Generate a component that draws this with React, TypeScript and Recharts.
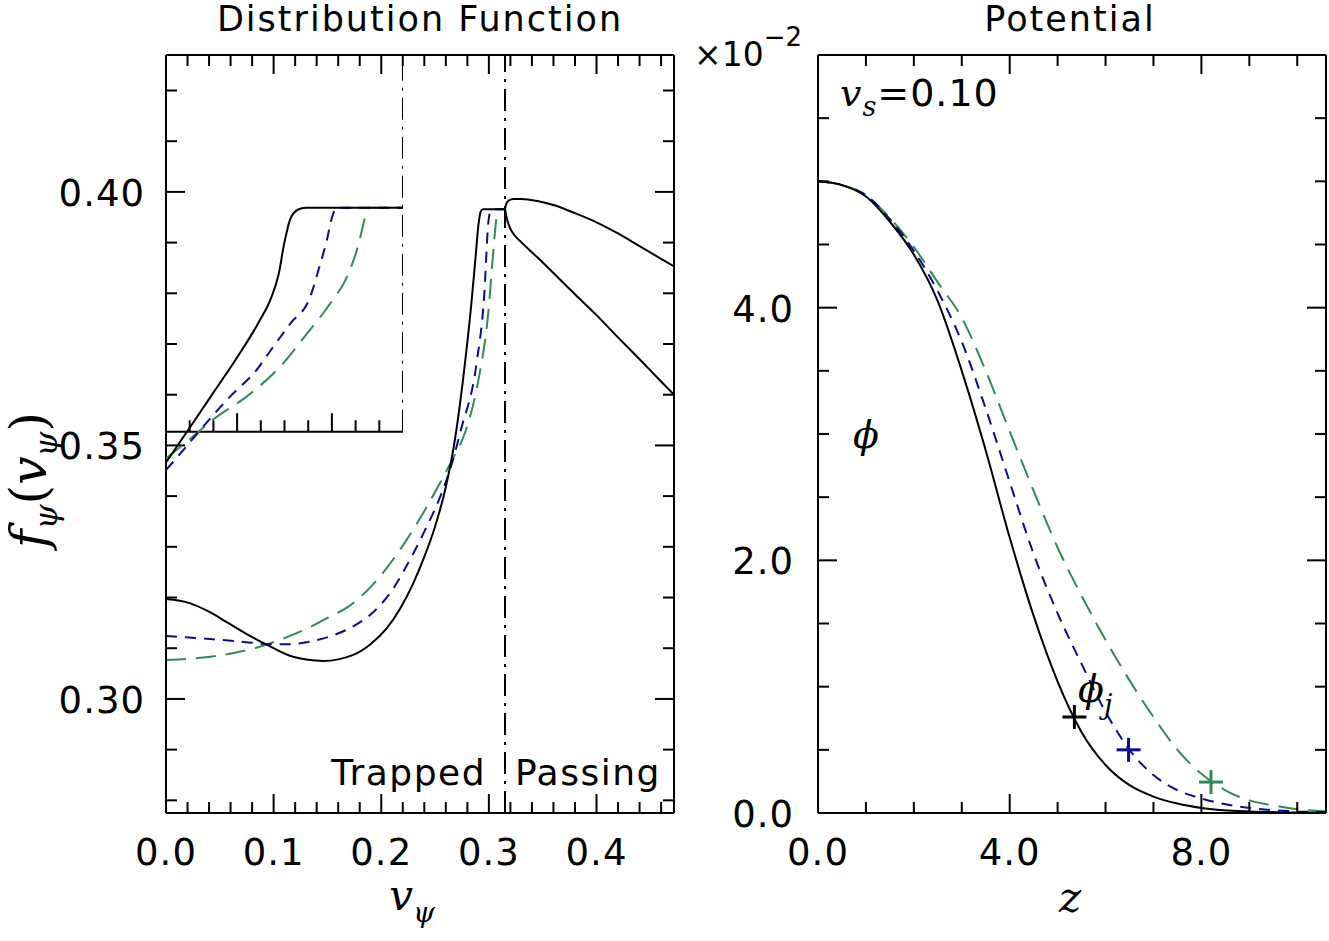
import React from "react";
import { LineChart, ComposedChart, Line, Scatter, XAxis, YAxis, ReferenceLine } from "recharts";

const BLUE = "#0b0b8f";
const GREEN = "#2e8b57";
const FONT = "'DejaVu Sans', sans-serif";
const MATH = "'DejaVu Serif', serif";

// distribution function, trapped part (three runs)
const distBlack = [
  { v: 0, f: 0.3197 }, { v: 0.022, f: 0.3189 }, { v: 0.04, f: 0.3172 }, { v: 0.056, f: 0.3152 },
  { v: 0.075, f: 0.3128 }, { v: 0.0935, f: 0.3107 }, { v: 0.118, f: 0.3083 }, { v: 0.146, f: 0.3075 },
  { v: 0.174, f: 0.3087 }, { v: 0.19, f: 0.3108 }, { v: 0.205, f: 0.3139 }, { v: 0.2175, f: 0.3178 },
  { v: 0.2295, f: 0.3227 }, { v: 0.24, f: 0.328 }, { v: 0.25, f: 0.334 }, { v: 0.26, f: 0.3418 },
  { v: 0.2687, f: 0.3515 }, { v: 0.277, f: 0.3648 }, { v: 0.2835, f: 0.3775 }, { v: 0.2875, f: 0.3868 },
  { v: 0.2903, f: 0.3935 }, { v: 0.2925, f: 0.3962 }, { v: 0.2945, f: 0.3966 }, { v: 0.315, f: 0.3966 },
];
const distBlue = [
  { v: 0, f: 0.3124 }, { v: 0.041, f: 0.3118 }, { v: 0.07, f: 0.3113 }, { v: 0.0966, f: 0.3108 },
  { v: 0.115, f: 0.3108 }, { v: 0.134, f: 0.3113 }, { v: 0.152, f: 0.3123 }, { v: 0.171, f: 0.314 },
  { v: 0.192, f: 0.317 }, { v: 0.211, f: 0.3217 }, { v: 0.225, f: 0.3268 }, { v: 0.24, f: 0.333 },
  { v: 0.255, f: 0.34 }, { v: 0.265, f: 0.346 }, { v: 0.2739, f: 0.353 }, { v: 0.2886, f: 0.3663 },
  { v: 0.2957, f: 0.3797 }, { v: 0.2995, f: 0.394 }, { v: 0.3015, f: 0.3962 }, { v: 0.3035, f: 0.3966 },
  { v: 0.315, f: 0.3966 },
];
const distGreen = [
  { v: 0, f: 0.3077 }, { v: 0.041, f: 0.3083 }, { v: 0.087, f: 0.3103 }, { v: 0.11, f: 0.312 },
  { v: 0.134, f: 0.3142 }, { v: 0.152, f: 0.3162 }, { v: 0.168, f: 0.318 }, { v: 0.192, f: 0.3225 },
  { v: 0.21, f: 0.3272 }, { v: 0.23, f: 0.3335 }, { v: 0.25, f: 0.3408 }, { v: 0.265, f: 0.3468 },
  { v: 0.2786, f: 0.353 }, { v: 0.285, f: 0.3577 }, { v: 0.291, f: 0.3637 }, { v: 0.2995, f: 0.3763 },
  { v: 0.3046, f: 0.3896 }, { v: 0.3068, f: 0.3945 }, { v: 0.3083, f: 0.3966 }, { v: 0.315, f: 0.3966 },
];
// passing part (black run), two branches of the loop
const passUpper = [
  { v: 0.315, f: 0.3966 }, { v: 0.3162, f: 0.3977 }, { v: 0.3185, f: 0.3983 }, { v: 0.323, f: 0.3986 },
  { v: 0.33, f: 0.3986 }, { v: 0.345, f: 0.3982 }, { v: 0.36, f: 0.3974 }, { v: 0.38, f: 0.3958 },
  { v: 0.4, f: 0.394 }, { v: 0.42, f: 0.3918 }, { v: 0.44, f: 0.3893 }, { v: 0.46, f: 0.3868 },
  { v: 0.473, f: 0.3852 },
];
const passLower = [
  { v: 0.315, f: 0.3966 }, { v: 0.3162, f: 0.3952 }, { v: 0.319, f: 0.3932 }, { v: 0.324, f: 0.3914 },
  { v: 0.33, f: 0.3901 }, { v: 0.345, f: 0.3871 }, { v: 0.36, f: 0.384 }, { v: 0.38, f: 0.3798 },
  { v: 0.4, f: 0.3757 }, { v: 0.42, f: 0.3713 }, { v: 0.44, f: 0.367 }, { v: 0.46, f: 0.3626 },
  { v: 0.473, f: 0.3598 },
];

// inset: zoom on the trapped edge
const insetBlack = [
  { v: 0.265, f: 0.3459 }, { v: 0.27, f: 0.3528 }, { v: 0.275, f: 0.3598 }, { v: 0.28, f: 0.3668 },
  { v: 0.2845, f: 0.3737 }, { v: 0.2872, f: 0.3787 }, { v: 0.2888, f: 0.3835 }, { v: 0.2899, f: 0.3893 },
  { v: 0.2912, f: 0.3943 }, { v: 0.2928, f: 0.3962 }, { v: 0.2945, f: 0.3966 }, { v: 0.315, f: 0.3966 },
];
const insetBlue = [
  { v: 0.265, f: 0.3444 }, { v: 0.2676, f: 0.3472 }, { v: 0.2729, f: 0.3531 }, { v: 0.2785, f: 0.359 },
  { v: 0.2841, f: 0.3643 }, { v: 0.2876, f: 0.3689 }, { v: 0.2912, f: 0.3735 }, { v: 0.2954, f: 0.3788 },
  { v: 0.2975, f: 0.3853 }, { v: 0.2989, f: 0.39 }, { v: 0.3, f: 0.3946 }, { v: 0.301, f: 0.3966 },
  { v: 0.315, f: 0.3966 },
];
const insetGreen = [
  { v: 0.265, f: 0.3467 }, { v: 0.27, f: 0.3505 }, { v: 0.275, f: 0.3545 }, { v: 0.282, f: 0.359 },
  { v: 0.2891, f: 0.365 }, { v: 0.2947, f: 0.3715 }, { v: 0.2996, f: 0.3775 }, { v: 0.3031, f: 0.3827 },
  { v: 0.3056, f: 0.3893 }, { v: 0.3066, f: 0.3932 }, { v: 0.3072, f: 0.3955 }, { v: 0.3077, f: 0.3966 },
  { v: 0.315, f: 0.3966 },
];

// potential phi(z), in units of 1e-2
const potBlack = [
  { z: 0, phi: 5.0 }, { z: 0.5, phi: 4.97 }, { z: 1, phi: 4.88 }, { z: 1.5, phi: 4.68 }, { z: 2, phi: 4.42 },
  { z: 2.5, phi: 4.05 }, { z: 3, phi: 3.5 }, { z: 3.5, phi: 2.87 }, { z: 4, phi: 2.18 }, { z: 4.5, phi: 1.56 },
  { z: 5, phi: 1.04 }, { z: 5.5, phi: 0.64 }, { z: 6, phi: 0.38 }, { z: 6.5, phi: 0.22 }, { z: 7, phi: 0.13 },
  { z: 7.5, phi: 0.075 }, { z: 8, phi: 0.04 }, { z: 9, phi: 0.012 }, { z: 10, phi: 0.004 }, { z: 10.6, phi: 0.002 },
];
const potBlue = [
  { z: 0, phi: 5.0 }, { z: 0.5, phi: 4.97 }, { z: 1, phi: 4.89 }, { z: 1.5, phi: 4.7 }, { z: 2, phi: 4.45 },
  { z: 2.5, phi: 4.13 }, { z: 3, phi: 3.73 }, { z: 3.5, phi: 3.2 }, { z: 4, phi: 2.62 }, { z: 4.5, phi: 2.05 },
  { z: 5, phi: 1.58 }, { z: 5.5, phi: 1.18 }, { z: 6, phi: 0.8 }, { z: 6.5, phi: 0.5 }, { z: 7, phi: 0.3 },
  { z: 7.5, phi: 0.18 }, { z: 8, phi: 0.115 }, { z: 9, phi: 0.04 }, { z: 10, phi: 0.012 }, { z: 10.6, phi: 0.006 },
];
const potGreen = [
  { z: 0, phi: 5.0 }, { z: 0.5, phi: 4.97 }, { z: 1, phi: 4.89 }, { z: 1.5, phi: 4.71 }, { z: 2, phi: 4.48 },
  { z: 2.5, phi: 4.2 }, { z: 3, phi: 3.92 }, { z: 3.5, phi: 3.5 }, { z: 4, phi: 3.02 }, { z: 4.5, phi: 2.55 },
  { z: 5, phi: 2.1 }, { z: 5.5, phi: 1.72 }, { z: 6, phi: 1.37 }, { z: 6.5, phi: 1.05 }, { z: 7, phi: 0.76 },
  { z: 7.5, phi: 0.5 }, { z: 8, phi: 0.31 }, { z: 8.5, phi: 0.18 }, { z: 9, phi: 0.1 }, { z: 9.5, phi: 0.06 },
  { z: 10, phi: 0.03 }, { z: 10.6, phi: 0.012 },
];
// phi_j markers
const jumpBlack = [{ z: 5.35, phi: 0.76 }];
const jumpBlue = [{ z: 6.48, phi: 0.5 }];
const jumpGreen = [{ z: 8.2, phi: 0.245 }];

// ticks
const distXTicks = [0, 0.02, 0.04, 0.06, 0.08, 0.1, 0.12, 0.14, 0.16, 0.18, 0.2, 0.22, 0.24, 0.26, 0.28, 0.3, 0.32, 0.34, 0.36, 0.38, 0.4, 0.42, 0.44, 0.46];
const distYTicks = [0.28, 0.29, 0.3, 0.31, 0.32, 0.33, 0.34, 0.35, 0.36, 0.37, 0.38, 0.39, 0.4, 0.41, 0.42];
const insetTicks = [0.27, 0.275, 0.28, 0.285, 0.29, 0.295, 0.3, 0.305, 0.31];
const potXTicks = [0, 1, 2, 3, 4, 5, 6, 7, 8, 9, 10];
const potYTicks = [0, 0.5, 1, 1.5, 2, 2.5, 3, 3.5, 4, 4.5, 5, 5.5];

const DIST_X = [0, 0.472];
const DIST_Y = [0.2775, 0.427];
const INSET_X = [0.265, 0.315];
const INSET_Y = [0.3452, 0.427];
const INSET_BASE = 0.352;
const POT_X = [0, 10.6];
const POT_Y = [0, 6];

const near = (a: number, step: number) => Math.abs(a / step - Math.round(a / step)) < 1e-6;

type Side = "bottom" | "top" | "left" | "right";
const makeTick = (side: Side, isMajor: (v: number) => boolean, fmt?: (v: number) => string, gap = 20) =>
  (props: any) => {
    const { x, y, payload } = props;
    const v = payload.value;
    const major = isMajor(v);
    const len = major ? 19 : 11;
    const dx = side === "left" ? len : side === "right" ? -len : 0;
    const dy = side === "bottom" ? -len : side === "top" ? len : 0;
    return (
      <g>
        <line x1={x} y1={y} x2={x + dx} y2={y + dy} stroke="#000" strokeWidth={2} />
        {fmt && major && side === "bottom" && (
          <text x={x} y={y + 52} textAnchor="middle" fontFamily={FONT} fontSize={37} letterSpacing={1} fill="#000">
            {fmt(v)}
          </text>
        )}
        {fmt && major && side === "left" && (
          <text x={x - gap} y={y + 14} textAnchor="end" fontFamily={FONT} fontSize={37} letterSpacing={1} fill="#000">
            {fmt(v)}
          </text>
        )}
      </g>
    );
  };

const axisLine = { stroke: "#000", strokeWidth: 2 };
const DASHDOT = "22 7 3 7";
const AX = { tickSize: 0, tickMargin: 0, tickLine: false, interval: 0 as const, allowDataOverflow: true, axisLine };

const Cross = (color: string) => (props: any) => {
  const { cx, cy } = props;
  return (
    <g stroke={color} strokeWidth={3}>
      <line x1={cx - 12} x2={cx + 12} y1={cy} y2={cy} />
      <line x1={cx} x2={cx} y1={cy - 12} y2={cy + 12} />
    </g>
  );
};

const lineProps = { dot: false, activeDot: false, isAnimationActive: false, type: "monotone" as const };

export default function App() {
  const distMajX = (v: number) => near(v, 0.1);
  const distMajY = (v: number) => near(v, 0.05);
  const potMajX = (v: number) => near(v, 4);
  const potMajY = (v: number) => near(v, 2);

  return (
    <div style={{ position: "absolute", left: 0, top: 0, width: 1329, height: 941, background: "#fff" }}>
      <div style={{ position: "absolute", left: 0, top: 0 }}>
        <LineChart width={700} height={941} margin={{ top: 55, left: 106, right: 26, bottom: 68 }}>
          <XAxis xAxisId="b" dataKey="v" type="number" domain={DIST_X} ticks={distXTicks} height={60} {...AX}
            tick={makeTick("bottom", distMajX, (v) => v.toFixed(1))} />
          <XAxis xAxisId="t" orientation="top" mirror dataKey="v" type="number" domain={DIST_X} ticks={distXTicks}
            height={30} {...AX} tick={makeTick("top", distMajX)} />
          <YAxis yAxisId="l" type="number" domain={DIST_Y} ticks={distYTicks} width={60} {...AX}
            tick={makeTick("left", distMajY, (v) => v.toFixed(2), 21)} />
          <YAxis yAxisId="r" orientation="right" mirror type="number" domain={DIST_Y} ticks={distYTicks}
            width={30} {...AX} tick={makeTick("right", distMajY)} />
          <ReferenceLine xAxisId="b" yAxisId="l" x={0.315} stroke="#000" strokeWidth={2} strokeDasharray={DASHDOT} />
          <Line xAxisId="b" yAxisId="l" data={distGreen} dataKey="f" stroke={GREEN} strokeWidth={2} strokeDasharray="20 10" {...lineProps} />
          <Line xAxisId="b" yAxisId="l" data={distBlue} dataKey="f" stroke={BLUE} strokeWidth={2} strokeDasharray="11 8" {...lineProps} />
          <Line xAxisId="b" yAxisId="l" data={distBlack} dataKey="f" stroke="#000" strokeWidth={2} {...lineProps} />
          <Line xAxisId="b" yAxisId="l" data={passUpper} dataKey="f" stroke="#000" strokeWidth={2} {...lineProps} />
          <Line xAxisId="b" yAxisId="l" data={passLower} dataKey="f" stroke="#000" strokeWidth={2} {...lineProps} />
        </LineChart>
      </div>

      <div style={{ position: "absolute", left: 166, top: 55 }}>
        <LineChart width={237} height={415} margin={{ top: 0, left: 0, right: 0, bottom: 0 }}>
          <XAxis dataKey="v" type="number" domain={INSET_X} hide />
          <YAxis type="number" domain={INSET_Y} hide />
          <ReferenceLine segment={[{ x: INSET_X[0], y: INSET_BASE }, { x: INSET_X[1], y: INSET_BASE }]}
            stroke="#000" strokeWidth={2} ifOverflow="visible" />
          <ReferenceLine segment={[{ x: INSET_X[1], y: INSET_BASE }, { x: INSET_X[1], y: INSET_Y[1] }]}
            stroke="#000" strokeWidth={2} strokeDasharray={DASHDOT} ifOverflow="visible" />
          {insetTicks.map((t) => (
            <ReferenceLine key={t} segment={[{ x: t, y: INSET_BASE }, { x: t, y: INSET_BASE + (near(t, 0.02) ? 0.0037 : 0.0023) }]}
              stroke="#000" strokeWidth={2} ifOverflow="visible" />
          ))}
          <Line data={insetGreen} dataKey="f" stroke={GREEN} strokeWidth={2} strokeDasharray="20 10" {...lineProps} />
          <Line data={insetBlue} dataKey="f" stroke={BLUE} strokeWidth={2} strokeDasharray="11 8" {...lineProps} />
          <Line data={insetBlack} dataKey="f" stroke="#000" strokeWidth={2} {...lineProps} />
        </LineChart>
      </div>

      <div style={{ position: "absolute", left: 700, top: 0 }}>
        <ComposedChart width={629} height={941} margin={{ top: 55, left: 58, right: 3, bottom: 68 }}>
          <XAxis xAxisId="b" dataKey="z" type="number" domain={POT_X} ticks={potXTicks} height={60} {...AX}
            tick={makeTick("bottom", potMajX, (v) => v.toFixed(1))} />
          <XAxis xAxisId="t" orientation="top" mirror dataKey="z" type="number" domain={POT_X} ticks={potXTicks}
            height={30} {...AX} tick={makeTick("top", potMajX)} />
          <YAxis yAxisId="l" dataKey="phi" type="number" domain={POT_Y} ticks={potYTicks} width={60} {...AX}
            tick={makeTick("left", potMajY, (v) => v.toFixed(1), 24)} />
          <YAxis yAxisId="r" orientation="right" mirror dataKey="phi" type="number" domain={POT_Y} ticks={potYTicks}
            width={30} {...AX} tick={makeTick("right", potMajY)} />
          <Line xAxisId="b" yAxisId="l" data={potGreen} dataKey="phi" stroke={GREEN} strokeWidth={2} strokeDasharray="20 10" {...lineProps} />
          <Line xAxisId="b" yAxisId="l" data={potBlue} dataKey="phi" stroke={BLUE} strokeWidth={2} strokeDasharray="11 8" {...lineProps} />
          <Line xAxisId="b" yAxisId="l" data={potBlack} dataKey="phi" stroke="#000" strokeWidth={2} {...lineProps} />
          <Scatter xAxisId="b" yAxisId="l" data={jumpBlack} dataKey="phi" shape={Cross("#000")} isAnimationActive={false} />
          <Scatter xAxisId="b" yAxisId="l" data={jumpBlue} dataKey="phi" shape={Cross(BLUE)} isAnimationActive={false} />
          <Scatter xAxisId="b" yAxisId="l" data={jumpGreen} dataKey="phi" shape={Cross(GREEN)} isAnimationActive={false} />
        </ComposedChart>
      </div>

      <svg width={1329} height={941} style={{ position: "absolute", left: 0, top: 0, pointerEvents: "none" }}>
        <g fontFamily={FONT} fill="#000">
          <text x={420} y={31} fontSize={35} letterSpacing={2} textAnchor="middle">Distribution Function</text>
          <text x={1070} y={31} fontSize={35} letterSpacing={2} textAnchor="middle">Potential</text>
          <text x={486} y={785} fontSize={36} letterSpacing={1.5} textAnchor="end">Trapped</text>
          <text x={515} y={785} fontSize={36} letterSpacing={1.5}>Passing</text>
          <text x={694} y={66} fontSize={33}>×10<tspan fontSize={26} dy={-20}>−2</tspan></text>
          <text x={840} y={106} fontSize={38} letterSpacing={1}>
            <tspan fontFamily={MATH} fontStyle="italic">v</tspan>
            <tspan fontFamily={MATH} fontStyle="italic" fontSize={27} dy={10}>s</tspan>
            <tspan dy={-10}>=0.10</tspan>
          </text>
        </g>
        <g fontFamily={MATH} fontStyle="italic" fill="#000">
          <text x={866} y={448} fontSize={38} textAnchor="middle">ϕ</text>
          <text x={1078} y={702} fontSize={38}>ϕ<tspan fontSize={27} dy={12}>j</tspan></text>
          <text x={412} y={910} fontSize={42} textAnchor="middle">v<tspan fontSize={28} dy={12}>ψ</tspan></text>
          <text x={1070} y={912} fontSize={42} textAnchor="middle">z</text>
          <text transform="translate(46,480) rotate(-90)" fontSize={50} textAnchor="middle">
            f<tspan fontSize={32} dy={11}>ψ</tspan><tspan fontStyle="normal" dy={-11}>(</tspan>v<tspan fontSize={32} dy={11}>ψ</tspan><tspan fontStyle="normal" dy={-11}>)</tspan>
          </text>
        </g>
      </svg>
    </div>
  );
}
